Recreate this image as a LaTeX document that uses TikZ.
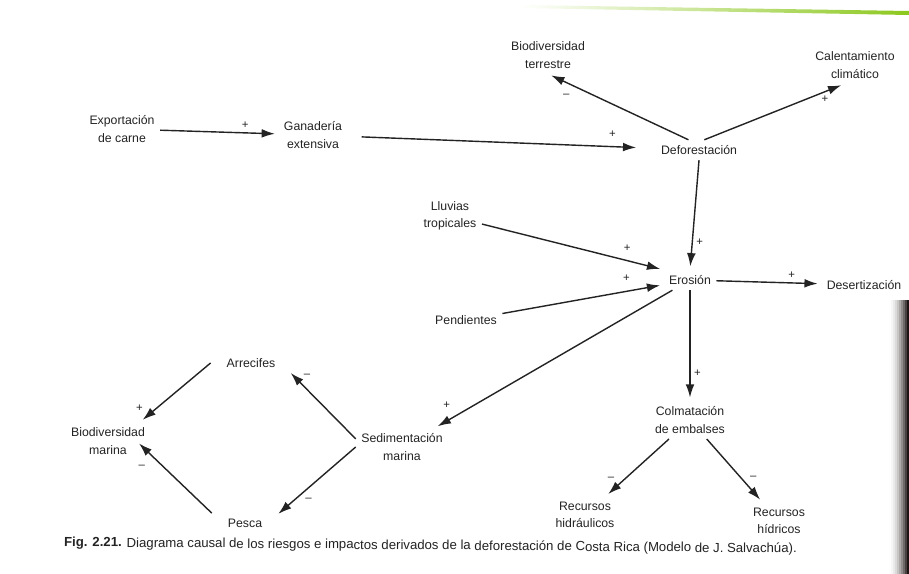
\documentclass[tikz,border=0pt]{standalone}
\usepackage{fontspec}
\setmainfont{Liberation Sans}
\usepackage{tikz}
\usetikzlibrary{arrows.meta, positioning, calc}
\usepackage{xcolor}
\definecolor{ink}{RGB}{35,35,35}
\definecolor{scangreen}{RGB}{140,200,30}
\definecolor{spine}{RGB}{30,20,20}

\tikzset{
  var/.style={align=center, inner sep=3pt, text=ink, font=\fontsize{7}{10}\selectfont},
  link/.style={draw=ink, line width=0.8pt, shorten >=2pt, -{Latex[length=7.5pt,width=5pt]}},
  sgn/.style={inner sep=2pt, text=ink, font=\fontsize{6.5}{6.5}\selectfont}
}

\begin{document}
\begin{tikzpicture}[x=0.02cm, y=-0.02cm]
  \useasboundingbox (0,0) rectangle (909,574);
  % scan edges
  \shade[left color=white, right color=scangreen] (520,5) -- (909,11) -- (909,15) -- (520,8) -- cycle;
  \foreach \k in {1,...,10} {
    \pgfmathtruncatemacro{\pct}{\k*\k}
    \fill[spine!\pct] (887+2*\k,300) rectangle (889+2*\k,574);
  }
  % Variables
  \node[var] (exp)  at (122,129) {Exportación\\de carne};
  \node[var] (gan)  at (313,135) {Ganadería\\extensiva};
  \node[var] (def)  at (699,150) {Deforestación};
  \node[var] (bioT) at (548,55)  {Biodiversidad\\terrestre};
  \node[var] (cal)  at (855,65)  {Calentamiento\\climático};
  \node[var] (llu)  at (450,216) {Lluvias\\tropicales};
  \node[var] (pen)  at (466,320) {Pendientes};
  \node[var] (ero)  at (690,280) {Erosión};
  \node[var] (des)  at (864,285) {Desertización};
  \node[var] (col)  at (690,420) {Colmatación\\de embalses};
  \node[var] (rh)   at (585,515) {Recursos\\hidráulicos};
  \node[var] (rhi)  at (779,521) {Recursos\\hídricos};
  \node[var] (sed)  at (402,447) {Sedimentación\\marina};
  \node[var] (arr)  at (251,363) {Arrecifes};
  \node[var] (pes)  at (245,523) {Pesca};
  \node[var] (bioM) at (108,441) {Biodiversidad\\marina};
  % Links
  \draw[link] (exp) -- node[sgn, pos=0.72, above] {+} (gan);
  \draw[link, shorten <=8pt, shorten >=11pt] (gan) -- node[sgn, pos=0.86, above=3pt] {+} (def);
  \draw[link] ([xshift=-6pt]def.north) -- node[sgn, pos=0.87, below=4pt] {–} (bioT.south);
  \draw[link] ([xshift=3pt]def.north) -- node[sgn, pos=0.86, below] {+} ([xshift=-6pt]cal.south);
  \draw[link] (def.south) -- node[sgn, pos=0.75, right] {+} (ero.north);
  \draw[link] (llu) -- node[sgn, pos=0.8, above=3pt] {+} (ero.north west);
  \draw[link] (pen) -- node[sgn, pos=0.77, above=3pt] {+} (ero);
  \draw[link] (ero) -- node[sgn, pos=0.72, above] {+} (des);
  \draw[link] (ero) -- node[sgn, pos=0.95, above=5pt] {+} (sed);
  \draw[link] (ero.south) -- node[sgn, pos=0.75, right] {+} (col.north);
  \draw[link] (col) -- node[sgn, pos=0.8, above left] {–} (rh);
  \draw[link] (col) -- node[sgn, pos=0.7, above right] {–} (rhi);
  \draw[link, shorten >=8pt] (sed.170) -- node[sgn, pos=0.75, above right] {–} (arr.east);
  \draw[link, shorten >=8pt] (sed.west) -- node[sgn, pos=0.62, below right] {–} (pes.east);
  \draw[link] ([xshift=-6pt]arr.west) -- node[sgn, pos=0.9, above left] {+} ([xshift=-6pt]bioM.north east);
  \draw[link] ([xshift=-6pt]pes.north west) -- node[sgn, pos=0.78, below left=3pt] {–} ([xshift=-8pt]bioM.east);
  % Caption
  \node[anchor=west, rotate=-0.5, text=ink, font=\fontsize{7.5}{9}\selectfont] (cap) at (58,543)
    {\textbf{Fig. 2.21.} Diagrama causal de los riesgos e impactos derivados de la deforestación de Costa Rica (Modelo de J. Salvachúa).};
\end{tikzpicture}
\end{document}
